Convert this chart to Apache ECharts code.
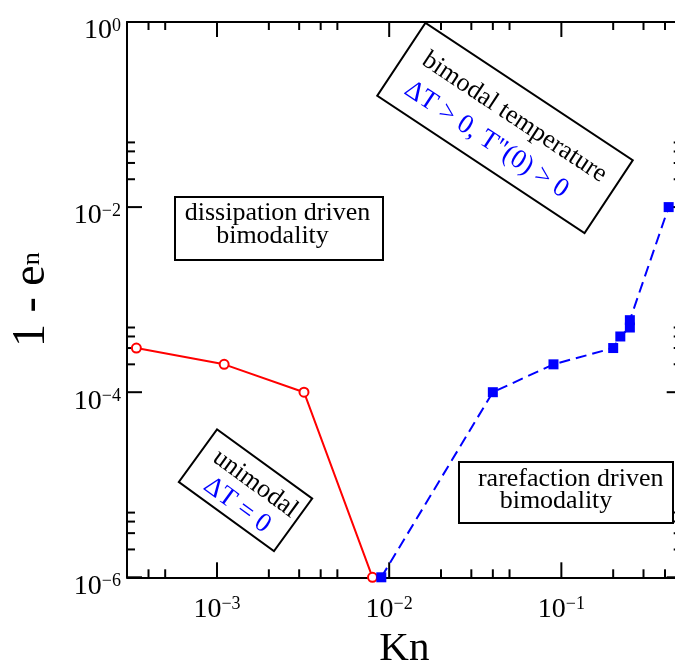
<!DOCTYPE html>
<html>
<head>
<meta charset="utf-8">
<script src="https://cdn.jsdelivr.net/npm/echarts@6/dist/echarts.min.js"></script>
<style>
  html, body { margin: 0; padding: 0; background: #fff; }
  #main { width: 675px; height: 666px; }
</style>
</head>
<body>
<div id="main"></div>
<script>
// dissipation driven branch (open red circles)
const redKn = [3.4e-4, 1.1e-3, 3.2e-3, 8e-3];
const redY = [3e-4, 2e-4, 1e-4, 1e-6];
// rarefaction driven branch (blue squares)
const blueKn = [9e-3, 0.04, 0.09, 0.2, 0.22, 0.25, 0.25, 0.42];
const blueY = [1e-6, 1e-4, 2e-4, 3e-4, 4e-4, 5e-4, 6e-4, 1e-2];

const xMin = 3e-4, xMax = 0.5;
const yMin = 1e-6, yMax = 1;
const xMajorTicks = [1e-3, 1e-2, 1e-1];
const xMinorTicks = [4e-4, 5e-4, 2e-3, 3e-3, 4e-3, 5e-3, 2e-2, 3e-2, 4e-2, 5e-2, 2e-1, 3e-1, 4e-1];
const yMajorTicks = [1e-6, 1e-4, 1e-2, 1];
const yMinorTicks = [2e-6, 3e-6, 4e-6, 5e-6, 2e-4, 3e-4, 4e-4, 5e-4, 2e-2, 3e-2, 4e-2, 5e-2];

const serif = '"Liberation Serif", "Times New Roman", serif';
const MAJOR = 15, MINOR = 8;

const chart = echarts.init(document.getElementById('main'), null, { renderer: 'canvas' });

function pow10Label(v, onlyEven) {
  const lg = Math.log10(v);
  const e = Math.round(lg);
  if (Math.abs(lg - e) > 0.01) return '';
  if (onlyEven && e % 2 !== 0) return '';
  return '{b|10}{s|' + String(e).replace('-', '\u2212') + '}';
}

function zip(xs, ys) {
  return xs.map((x, i) => [x, ys[i]]);
}

function renderXTick(params, api) {
  const x = api.coord([api.value(0), yMin])[0];
  const cs = params.coordSys;
  const len = api.value(2) ? MAJOR : MINOR;
  const bottom = cs.y + cs.height;
  return {
    type: 'group',
    children: [
      { type: 'line', shape: { x1: x, y1: bottom, x2: x, y2: bottom - len }, style: { stroke: '#000', lineWidth: 2 } },
      { type: 'line', shape: { x1: x, y1: cs.y, x2: x, y2: cs.y + len }, style: { stroke: '#000', lineWidth: 2 } }
    ]
  };
}

function renderYTick(params, api) {
  const y = api.coord([xMin, api.value(1)])[1];
  const cs = params.coordSys;
  const len = api.value(2) ? MAJOR : MINOR;
  const right = cs.x + cs.width;
  return {
    type: 'group',
    children: [
      { type: 'line', shape: { x1: cs.x, y1: y, x2: cs.x + len, y2: y }, style: { stroke: '#000', lineWidth: 2 } },
      { type: 'line', shape: { x1: right, y1: y, x2: right - len, y2: y }, style: { stroke: '#000', lineWidth: 2 } }
    ]
  };
}

const xTickData = xMajorTicks.map(v => [v, yMin, 1]).concat(xMinorTicks.map(v => [v, yMin, 0]));
const yTickData = yMajorTicks.map(v => [xMin, v, 1]).concat(yMinorTicks.map(v => [xMin, v, 0]));

const frameLine = { onZero: false, lineStyle: { color: '#000', width: 2 } };

const option = {
  animation: false,
  backgroundColor: '#fff',
  grid: { left: 127, right: -6.7, top: 22, bottom: 88.7, outerBoundsMode: 'none' },
  xAxis: [
    {
      type: 'log', logBase: 10, min: xMin, max: xMax, position: 'bottom',
      name: 'Kn', nameLocation: 'middle', nameGap: 51, nameMoveOverlap: false,
      nameTextStyle: { fontFamily: serif, fontSize: 41, color: '#000' },
      axisLine: frameLine,
      axisTick: { show: false },
      minorTick: { show: false },
      splitLine: { show: false },
      axisLabel: {
        margin: 18,
        color: '#000',
        formatter: v => pow10Label(v, false),
        rich: {
          b: { fontFamily: serif, fontSize: 28, lineHeight: 28, color: '#000', verticalAlign: 'bottom' },
          s: { fontFamily: serif, fontSize: 18, lineHeight: 18, color: '#000', verticalAlign: 'top', padding: [0, 0, 21, 0] }
        }
      }
    },
    {
      type: 'log', logBase: 10, min: xMin, max: xMax, position: 'top',
      axisLine: frameLine,
      axisTick: { show: false },
      axisLabel: { show: false },
      splitLine: { show: false }
    }
  ],
  yAxis: [
    {
      type: 'log', logBase: 10, min: yMin, max: yMax, position: 'left',
      name: '{a|1 - e}{n|n}', nameLocation: 'middle', nameGap: 72, nameMoveOverlap: false,
      nameTextStyle: {
        rich: {
          a: { fontFamily: serif, fontSize: 46, lineHeight: 46, color: '#000', verticalAlign: 'bottom' },
          n: { fontFamily: serif, fontSize: 26, lineHeight: 26, color: '#000', verticalAlign: 'bottom', padding: [0, 0, 10, 0] }
        }
      },
      axisLine: frameLine,
      axisTick: { show: false },
      minorTick: { show: false },
      splitLine: { show: false },
      axisLabel: {
        margin: 6,
        color: '#000',
        padding: [18, 0, 0, 0],
        formatter: v => pow10Label(v, true),
        rich: {
          b: { fontFamily: serif, fontSize: 28, lineHeight: 28, color: '#000', verticalAlign: 'bottom' },
          s: { fontFamily: serif, fontSize: 18, lineHeight: 18, color: '#000', verticalAlign: 'top', padding: [0, 0, 18, 0] }
        }
      }
    },
    {
      type: 'log', logBase: 10, min: yMin, max: yMax, position: 'right',
      axisLine: frameLine,
      axisTick: { show: false },
      axisLabel: { show: false },
      splitLine: { show: false }
    }
  ],
  series: [
    {
      type: 'custom', name: 'xticks', silent: true, z: 1,
      renderItem: renderXTick, data: xTickData
    },
    {
      type: 'custom', name: 'yticks', silent: true, z: 1,
      renderItem: renderYTick, data: yTickData
    },
    {
      type: 'line', name: 'dissipation',
      data: zip(redKn, redY),
      symbol: 'emptyCircle', symbolSize: 9,
      lineStyle: { color: '#ff0000', width: 2 },
      itemStyle: { color: '#ff0000', borderColor: '#ff0000', borderWidth: 1.2 },
      z: 3
    },
    {
      type: 'line', name: 'rarefaction',
      data: zip(blueKn, blueY),
      symbol: 'rect', symbolSize: 10,
      lineStyle: { color: '#0000ff', width: 2, type: [11, 6] },
      itemStyle: { color: '#0000ff' },
      z: 4
    }
  ],
  graphic: [
    {
      type: 'rect', shape: { x: 175, y: 197, width: 208, height: 63 },
      style: { fill: '#fff', stroke: '#000', lineWidth: 2 }
    },
    {
      type: 'text', x: 277.5, y: 213.2,
      style: { text: 'dissipation driven', font: '26px ' + serif, fill: '#000', align: 'center', verticalAlign: 'middle' }
    },
    {
      type: 'text', x: 272.5, y: 236.2,
      style: { text: 'bimodality', font: '26px ' + serif, fill: '#000', align: 'center', verticalAlign: 'middle' }
    },
    {
      type: 'rect', shape: { x: 459, y: 462, width: 214, height: 61 },
      style: { fill: '#fff', stroke: '#000', lineWidth: 2 }
    },
    {
      type: 'text', x: 570.7, y: 479.5,
      style: { text: 'rarefaction driven', font: '26px ' + serif, fill: '#000', align: 'center', verticalAlign: 'middle' }
    },
    {
      type: 'text', x: 556, y: 501.2,
      style: { text: 'bimodality', font: '26px ' + serif, fill: '#000', align: 'center', verticalAlign: 'middle' }
    },
    {
      type: 'group', x: 505, y: 128, rotation: -33.5 * Math.PI / 180,
      children: [
        {
          type: 'rect', shape: { x: -124.3, y: -43.7, width: 248.6, height: 87.4 },
          style: { fill: '#fff', stroke: '#000', lineWidth: 2 }
        },
        {
          type: 'text', x: 2, y: -14,
          style: { text: 'bimodal temperature', font: '26px ' + serif, fill: '#000', align: 'center', verticalAlign: 'middle' }
        },
        {
          type: 'text', x: -9, y: 20,
          style: { text: 'ΔT > 0, T"(0) > 0', font: '27px ' + serif, fill: '#0000ff', align: 'center', verticalAlign: 'middle' }
        }
      ]
    },
    {
      type: 'group', x: 245.5, y: 490.3, rotation: -36 * Math.PI / 180,
      children: [
        {
          type: 'rect', shape: { x: -58.8, y: -32.5, width: 117.6, height: 65 },
          style: { fill: '#fff', stroke: '#000', lineWidth: 2 }
        },
        {
          type: 'text', x: 4, y: -11,
          style: { text: 'unimodal', font: '26px ' + serif, fill: '#000', align: 'center', verticalAlign: 'middle' }
        },
        {
          type: 'text', x: 2, y: 17,
          style: { text: 'ΔT = 0', font: '27px ' + serif, fill: '#0000ff', align: 'center', verticalAlign: 'middle' }
        }
      ]
    }
  ]
};

chart.setOption(option);
</script>
</body>
</html>
